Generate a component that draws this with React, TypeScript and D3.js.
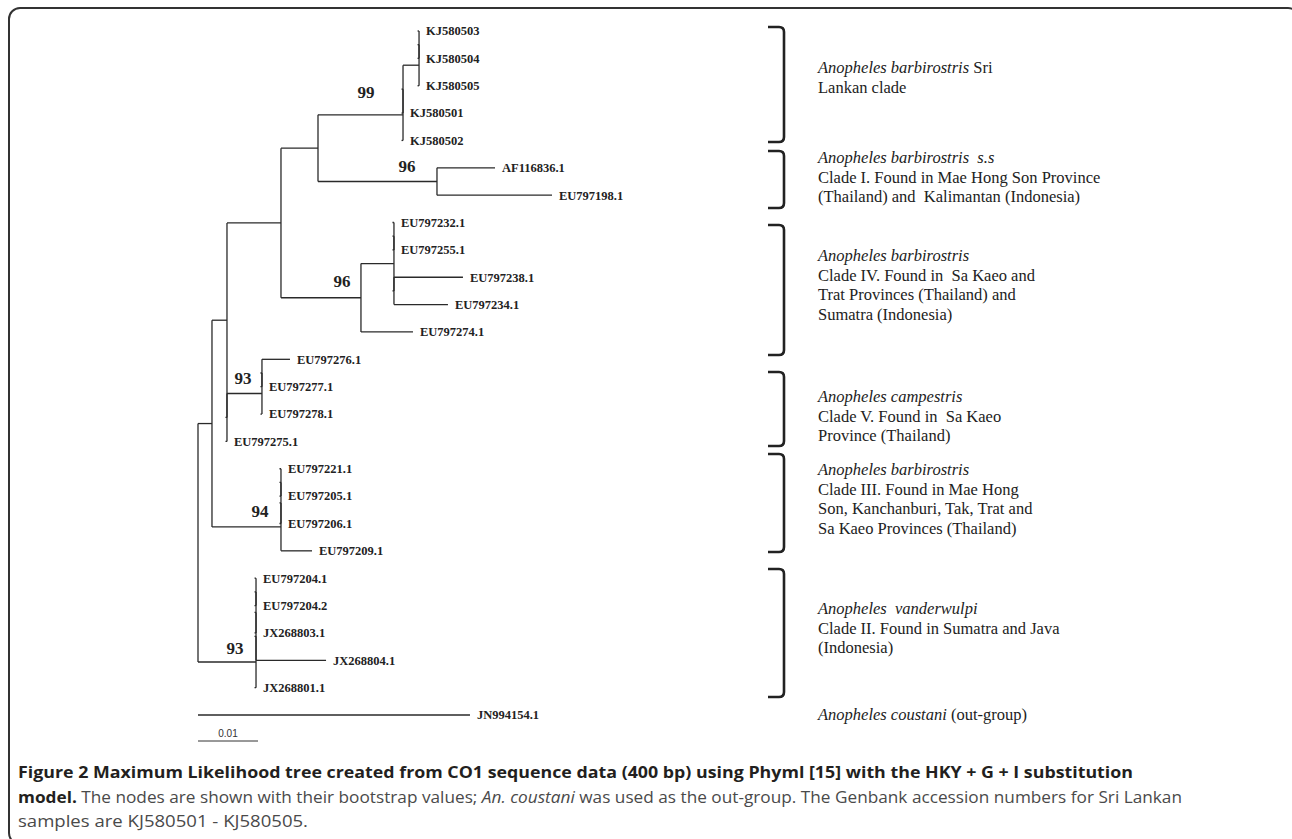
import React from "react";
import * as d3 from "d3";

const W = 1292;
const H = 839;

// tree as [node, parent, branch length in substitutions/site]
const edges: [string, string, number][] = [
  ["root", "", 0],
  ["n212", "root", 0.00233],
  ["nA", "n212", 0.0025],
  ["n281", "nA", 0.009],
  ["n318", "n281", 0.00617],
  ["n403b", "n318", 0.01417],
  ["n403a", "n403b", 0],
  ["nKJ", "n403a", 0.00267],
  ["nKJi", "nKJ", 0],
  ["KJ580503", "nKJi", 0],
  ["KJ580504", "nKJi", 0],
  ["KJ580505", "nKJ", 0],
  ["KJ580501", "n403a", 0],
  ["KJ580502", "n403b", 0],
  ["n437", "n318", 0.01983],
  ["AF116836.1", "n437", 0.00967],
  ["EU797198.1", "n437", 0.01917],
  ["n361", "n281", 0.01333],
  ["n394", "n361", 0.0055],
  ["n394a", "n394", 0],
  ["EU797232.1", "n394a", 0],
  ["EU797255.1", "n394a", 0],
  ["n394b", "n394", 0],
  ["EU797238.1", "n394b", 0.0115],
  ["EU797234.1", "n394b", 0.009],
  ["EU797274.1", "n361", 0.00867],
  ["nB", "nA", 0],
  ["n262", "nB", 0.00583],
  ["n262a", "n262", 0],
  ["EU797276.1", "n262a", 0.00467],
  ["EU797277.1", "n262a", 0],
  ["EU797278.1", "n262", 0],
  ["EU797275.1", "nB", 0],
  ["nE", "n212", 0.0115],
  ["nD", "nE", 0],
  ["nC", "nD", 0],
  ["EU797221.1", "nC", 0],
  ["EU797205.1", "nC", 0],
  ["EU797206.1", "nD", 0],
  ["EU797209.1", "nE", 0.00517],
  ["n256", "root", 0.00967],
  ["n256c", "n256", 0],
  ["n256b", "n256c", 0],
  ["n256a", "n256b", 0],
  ["EU797204.1", "n256a", 0],
  ["EU797204.2", "n256a", 0],
  ["JX268803.1", "n256b", 0],
  ["JX268804.1", "n256c", 0.01167],
  ["JX268801.1", "n256", 0],
];

const outgroup = { name: "JN994154.1", length: 0.04533 };

const bootstraps: [string, number][] = [
  ["n403b", 99],
  ["n437", 96],
  ["n361", 96],
  ["n262", 93],
  ["nE", 94],
  ["n256", 93],
];

// label offsets from node (layout only)
const bootOffset: Record<string, [number, number]> = {
  n403b: [-37, -16.5],
  n437: [-30, -9.5],
  n361: [-19, -11],
  n262: [-19, -9.5],
  nE: [-21, -10],
  n256: [-21, -7.5],
};

// clade annotation texts: [text, italic]
type Seg = [string, boolean];
const cladeNotes: Seg[][][] = [
  [[["Anopheles barbirostris", true], [" Sri", false]], [["Lankan clade", false]]],
  [
    [["Anopheles barbirostris  s.s", true]],
    [["Clade I. Found in Mae Hong Son Province", false]],
    [["(Thailand) and  Kalimantan (Indonesia)", false]],
  ],
  [
    [["Anopheles barbirostris", true]],
    [["Clade IV. Found in  Sa Kaeo and", false]],
    [["Trat Provinces (Thailand) and", false]],
    [["Sumatra (Indonesia)", false]],
  ],
  [
    [["Anopheles campestris", true]],
    [["Clade V. Found in  Sa Kaeo", false]],
    [["Province (Thailand)", false]],
  ],
  [
    [["Anopheles barbirostris", true]],
    [["Clade III. Found in Mae Hong", false]],
    [["Son, Kanchanburi, Tak, Trat and", false]],
    [["Sa Kaeo Provinces (Thailand)", false]],
  ],
  [
    [["Anopheles  vanderwulpi", true]],
    [["Clade II. Found in Sumatra and Java", false]],
    [["(Indonesia)", false]],
  ],
  [[["Anopheles coustani", true], [" (out-group)", false]]],
];
const noteTop = [73, 163, 261, 402, 475, 614, 720];
const brackets: [number, number][] = [
  [27, 142],
  [151, 208],
  [225, 355],
  [372, 446],
  [454, 552],
  [569, 697],
];

const scaleBarValue = 0.01;

const App = () => {
  const root = d3
    .stratify<[string, string, number]>()
    .id((d) => d[0])
    .parentId((d) => (d[1] === "" ? null : d[1]))(edges);

  const leafCount = root.leaves().length + 1;
  const x = d3.scaleLinear().domain([0, 0.01]).range([198, 258]);
  const y = d3.scaleLinear().domain([0, leafCount - 1]).range([31, 715]);

  const pos = new Map<string, { x: number; y: number }>();
  const dist = new Map<string, number>();
  root.eachBefore((n) => {
    dist.set(n.id!, (n.parent ? dist.get(n.parent.id!)! : 0) + n.data[2]);
  });
  let li = 0;
  root.eachAfter((n) => {
    let yy: number;
    if (!n.children) yy = y(li++);
    else {
      const c = n.children;
      yy = (pos.get(c[0].id!)!.y + pos.get(c[c.length - 1].id!)!.y) / 2;
    }
    pos.set(n.id!, { x: x(dist.get(n.id!)!), y: yy });
  });

  const stroke = "#2a2a2a";
  const lines: React.ReactNode[] = [];
  root.each((n) => {
    const p = pos.get(n.id!)!;
    if (n.children) {
      const c = n.children;
      lines.push(
        <line key={"v" + n.id} x1={p.x} x2={p.x} y1={pos.get(c[0].id!)!.y} y2={pos.get(c[c.length - 1].id!)!.y} stroke={stroke} strokeWidth={1.3} />
      );
    }
    if (n.parent) {
      const pp = pos.get(n.parent.id!)!;
      const x1 = p.x - pp.x < 0.5 ? pp.x - 1.5 : pp.x;
      lines.push(
        <line key={"h" + n.id} x1={x1} x2={p.x} y1={p.y} y2={p.y} stroke={stroke} strokeWidth={1.3} />
      );
    }
  });

  const leaves = root.leaves();
  const outY = y(leafCount - 1);
  const serif = "'Liberation Serif', 'Times New Roman', serif";
  const sans = "'Open Sans', 'Noto Sans', sans-serif";

  return (
    <svg width={W} height={H} style={{ position: "absolute", left: 0, top: 0, background: "#fff" }}>
      <rect x={9} y={8} width={1290} height={836} rx={11} fill="none" stroke="#333" strokeWidth={2} />
      <g>{lines}</g>
      <line x1={x(0)} x2={x(outgroup.length)} y1={outY} y2={outY} stroke={stroke} strokeWidth={1.3} />
      {leaves.map((n) => {
        const p = pos.get(n.id!)!;
        return (
          <text key={n.id} x={p.x + 7} y={p.y} dy="0.35em" fontFamily={serif} fontWeight="bold" fontSize={12.5} fill="#222">
            {n.id}
          </text>
        );
      })}
      <text x={x(outgroup.length) + 7} y={outY} dy="0.35em" fontFamily={serif} fontWeight="bold" fontSize={12.5} fill="#222">
        {outgroup.name}
      </text>
      {bootstraps.map(([id, v]) => {
        const p = pos.get(id)!;
        const [dx, dy] = bootOffset[id];
        return (
          <text key={"b" + id} x={p.x + dx} y={p.y + dy} textAnchor="middle" fontFamily={serif} fontWeight="bold" fontSize={17} fill="#222">
            {v}
          </text>
        );
      })}
      <line x1={x(0)} x2={x(scaleBarValue)} y1={741} y2={741} stroke="#333" strokeWidth={1} />
      <text x={(x(0) + x(scaleBarValue)) / 2} y={737} textAnchor="middle" fontFamily="'Liberation Sans', Arial, sans-serif" fontSize={10} fill="#333">
        {scaleBarValue}
      </text>
      {brackets.map(([t, b], i) => (
        <path
          key={"br" + i}
          d={`M768,${t} H779 Q784,${t} 784,${t + 5} V${b - 5} Q784,${b} 779,${b} H768`}
          fill="none"
          stroke="#222"
          strokeWidth={2.6}
        />
      ))}
      {cladeNotes.map((block, bi) =>
        block.map((line, k) => (
          <text key={`n${bi}-${k}`} x={818} y={noteTop[bi] + k * 19.7} fontFamily={serif} fontSize={16.5} fill="#222">
            {line.map(([s, it], j) => (
              <tspan key={j} fontStyle={it ? "italic" : "normal"} style={{ whiteSpace: "pre" }}>
                {s}
              </tspan>
            ))}
          </text>
        ))
      )}
      <text x={18} y={778} fontFamily={sans} fontWeight="bold" fontSize={15.5} fill="#231f20" textLength={1115} lengthAdjust="spacingAndGlyphs">
        Figure 2 Maximum Likelihood tree created from CO1 sequence data (400 bp) using Phyml [15] with the HKY + G + I substitution
      </text>
      <text x={18} y={803} fontFamily={sans} fontSize={15.5} fill="#4a4a4a" textLength={1164} lengthAdjust="spacingAndGlyphs">
        <tspan fontWeight="bold" fill="#231f20">model.</tspan>
        <tspan> The nodes are shown with their bootstrap values; </tspan>
        <tspan fontStyle="italic">An. coustani</tspan>
        <tspan> was used as the out-group. The Genbank accession numbers for Sri Lankan</tspan>
      </text>
      <text x={18} y={827} fontFamily={sans} fontSize={15.5} fill="#4a4a4a" textLength={290} lengthAdjust="spacingAndGlyphs">
        samples are KJ580501 - KJ580505.
      </text>
    </svg>
  );
};

export default App;
